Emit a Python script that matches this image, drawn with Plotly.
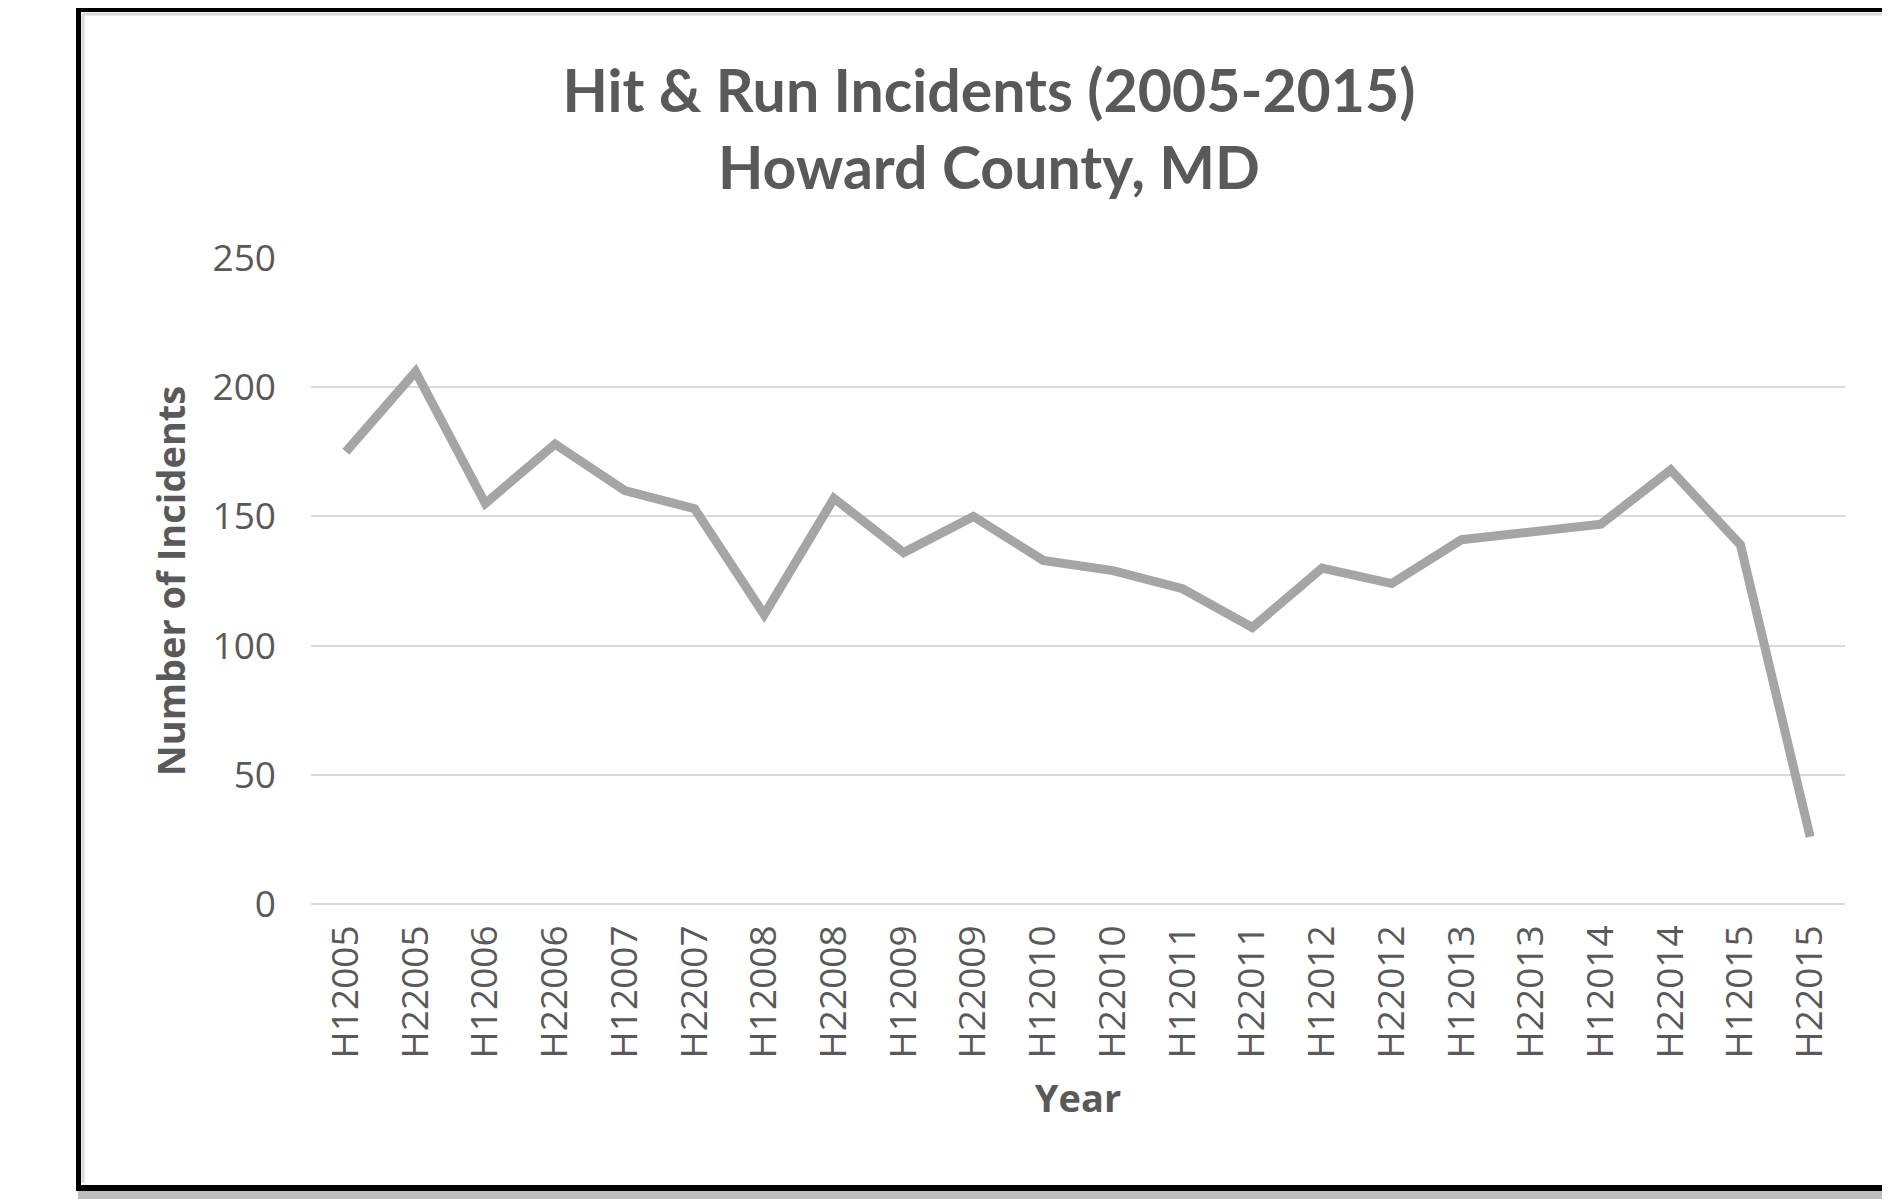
import plotly.graph_objects as go

W, H = 1890, 1200
OFF = 8  # page body margin offset (px) applied by the browser
# plot area in screen pixels (left, right, top, bottom)
PX_L, PX_R, PX_T, PX_B = 311, 1845, 258, 904
L = PX_L - OFF
T = PX_T - OFF
pw, ph = PX_R - PX_L, PX_B - PX_T
R = W - L - pw
B = H - T - ph

periods = ["H12005", "H22005", "H12006", "H22006", "H12007", "H22007",
           "H12008", "H22008", "H12009", "H22009", "H12010", "H22010",
           "H12011", "H22011", "H12012", "H22012", "H12013", "H22013",
           "H12014", "H22014", "H12015", "H22015"]
incidents = [175, 206, 155, 178, 160, 153,
             112, 157, 136, 150, 133, 129,
             122, 107, 130, 124, 141, 144,
             147, 168, 139, 26]
y_ticks = [0, 50, 100, 150, 200, 250]


def px_x(x):
    return (x - PX_L) / pw


def px_y(y):
    return (PX_B - y) / ph


fig = go.Figure()
fig.add_trace(go.Scatter(
    x=periods, y=incidents, mode="lines",
    line=dict(color="#A5A5A5", width=9),
    hoverinfo="x+y", showlegend=False,
))

tick_font = dict(family="Open Sans", size=37, color="#595959")
title_font = dict(family="Open Sans", size=38, color="#595959", weight="bold")

shapes = [
    # inner light edge
    dict(type="line", xref="paper", yref="paper", x0=px_x(83), x1=px_x(1897),
         y0=px_y(14), y1=px_y(14), line=dict(color="#D9D9D9", width=3)),
    dict(type="line", xref="paper", yref="paper", x0=px_x(83), x1=px_x(83),
         y0=px_y(14), y1=px_y(1183), line=dict(color="#D9D9D9", width=3)),
    # shadow below bottom border
    dict(type="rect", xref="paper", yref="paper", x0=px_x(78), x1=px_x(1897),
         y0=px_y(1191), y1=px_y(1199), fillcolor="#BDBDBD", line=dict(width=0)),
    # black frame
    dict(type="line", xref="paper", yref="paper", x0=px_x(78.5), x1=px_x(78.5),
         y0=px_y(6), y1=px_y(1191), line=dict(color="#000000", width=5)),
    dict(type="line", xref="paper", yref="paper", x0=px_x(76), x1=px_x(1897),
         y0=px_y(9), y1=px_y(9), line=dict(color="#000000", width=6)),
    dict(type="line", xref="paper", yref="paper", x0=px_x(76), x1=px_x(1897),
         y0=px_y(1188), y1=px_y(1188), line=dict(color="#000000", width=6)),
]

fig.update_layout(
    width=W, height=H,
    margin=dict(l=L, r=R, t=T, b=B),
    paper_bgcolor="white", plot_bgcolor="white",
    title=dict(
        text="Hit & Run Incidents (2005-2015)<br>Howard County, MD",
        x=(989 - OFF) / W, xanchor="center", xref="container",
        y=1 - (112 - OFF) / H, yanchor="middle", yref="container",
        font=dict(family="Lato", size=59, color="#595959", weight="bold"),
    ),
    xaxis=dict(
        type="category", range=[-0.5, len(periods) - 0.5],
        tickangle=-90, tickfont=tick_font, showgrid=False,
        showline=False, zeroline=False, ticks="", ticklabelstandoff=13,
        title=dict(text="Year", font=title_font, standoff=27),
    ),
    yaxis=dict(
        range=[0, 250], tickvals=y_ticks, tickfont=tick_font,
        showgrid=True, gridcolor="#D9D9D9", gridwidth=2,
        zeroline=True, zerolinecolor="#D9D9D9", zerolinewidth=2,
        showline=False, ticks="", ticklabelstandoff=34,
        title=dict(text="Number of Incidents", font=title_font, standoff=15),
    ),
    shapes=shapes,
)

fig.write_html("out.html")
